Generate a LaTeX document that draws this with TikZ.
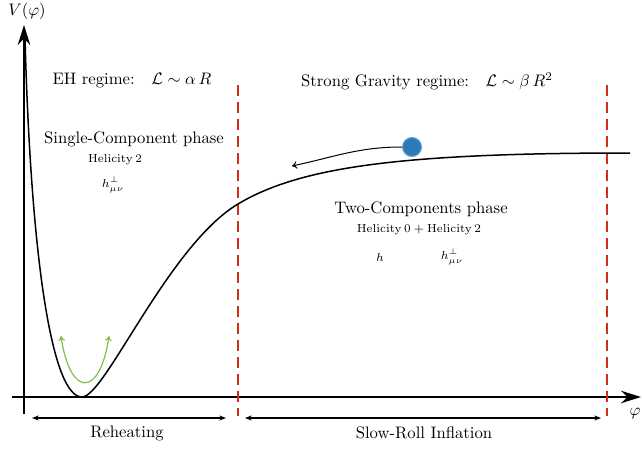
\documentclass[tikz,border=0pt]{standalone}
\usepackage{amsmath,amssymb}
\usetikzlibrary{positioning,arrows.meta}
\definecolor{sepred}{RGB}{210,45,25}
\definecolor{ballblue}{RGB}{44,123,182}
\definecolor{kickgreen}{RGB}{125,190,70}
\begin{document}
\begin{tikzpicture}[x=0.6pt,y=-0.6pt,>={Stealth},
  txt/.style={inner sep=1pt,font=\normalsize},
  sml/.style={inner sep=1pt,font=\scriptsize},
  axis/.style={-{Stealth[length=12pt,width=7.5pt]},line width=1.2pt},
  sep/.style={dash pattern=on 6.6pt off 3.6pt,line width=1.2pt,draw=sepred},
  span/.style={{Stealth[length=4pt,width=3pt]}-{Stealth[length=4pt,width=3pt]},line width=0.9pt},
  pot/.style={line width=0.9pt},
  kick/.style={{To[length=3pt,width=4pt]}-{To[length=3pt,width=4pt]},kickgreen,line width=0.7pt}]
\useasboundingbox (0,0) rectangle (642,451);
% axes
\coordinate (ybot) at (24,414); \coordinate (ytop) at (24,25);
\coordinate (xl) at (12,397); \coordinate (xr) at (641,397);
\draw[axis](ybot)--(ytop);
\draw[axis](xl)--(xr);
\node[txt,anchor=center](vlab) at (27,11){$V(\varphi)$};
\node[txt,anchor=center](phlab) at (635,414){$\varphi$};
% regime borders
\coordinate (s1t) at (238,85); \coordinate (s1b) at (238,416);
\coordinate (s2t) at (607,85); \coordinate (s2b) at (607,416);
\draw[sep](s1t)--(s1b);
\draw[sep](s2t)--(s2b);
% potential
\coordinate (pstart) at (25,38); \coordinate (pmin) at (82,397);
\coordinate (pmid) at (238,204); \coordinate (pend) at (630,153);
\draw[pot](pstart) .. controls (31,260) and (52,397) .. (pmin)
  .. controls (105,397) and (168,246) .. (pmid)
  .. controls (300,167) and (400,153) .. (pend);
% field and oscillation
\node[circle,fill=ballblue,draw=ballblue!70!white,line width=0.6pt,minimum size=19pt*0.6,inner sep=0pt](ball) at (412,147){};
\coordinate (roll) at (292,166);
\draw[-{To[length=3pt,width=4.5pt]},line width=0.6pt](ball.west) to[out=180,in=12] (roll);
\coordinate (gl) at (61,336); \coordinate (gr) at (109,336);
\draw[kick](gl) .. controls (70,398) and (100,398) .. (gr);
% periods
\coordinate (r1) at (32,418); \coordinate (r2) at (226,418);
\coordinate (i1) at (245,418); \coordinate (i2) at (601,418);
\draw[span](r1)--(r2);
\draw[span](i1)--(i2);
\node[txt](reh) at (127,433){Reheating};
\node[txt](sri) at (424,433){Slow-Roll Inflation};
% labels
\node[txt](eh) at (132,81){EH regime:\quad$\mathcal{L}\sim\alpha\,R$};
\node[txt](sg) at (427,81){Strong Gravity regime:\quad$\mathcal{L}\sim\beta\,R^2$};
\node[txt](one) at (134,139){Single-Component phase};
\node[sml](h2) at (115,160){$\mathrm{Helicity}\,2$};
\node[sml](hp) at (113,185){$h^{\perp}_{\mu\nu}$};
\node[txt](two) at (421,209){Two-Components phase};
\node[sml](h02) at (419,230){$\mathrm{Helicity}\,0+\mathrm{Helicity}\,2$};
\node[sml](hs) at (380,257){$h$};
\node[sml](hp2) at (452,257){$h^{\perp}_{\mu\nu}$};
\end{tikzpicture}
\end{document}
